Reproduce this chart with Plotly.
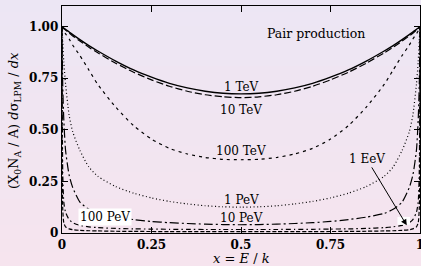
import plotly.graph_objects as go

# ---------------- data ----------------
x_frac = [0, 0.002, 0.005, 0.01, 0.02, 0.03, 0.05, 0.075, 0.1, 0.15, 0.2, 0.25, 0.3, 0.35, 0.4, 0.45,
          0.5,
          0.55, 0.6, 0.65, 0.7, 0.75, 0.8, 0.85, 0.9, 0.925, 0.95, 0.97, 0.98, 0.99, 0.995, 0.998, 1]

y_1TeV = [1.0, 0.997, 0.993, 0.987, 0.974, 0.961, 0.937, 0.908, 0.882, 0.833, 0.790, 0.755, 0.725, 0.703, 0.687, 0.677,
          0.674,
          0.677, 0.687, 0.703, 0.725, 0.755, 0.790, 0.833, 0.882, 0.908, 0.937, 0.961, 0.974, 0.987, 0.993, 0.997, 1.0]
y_10TeV = [1.0, 0.996, 0.991, 0.983, 0.968, 0.955, 0.930, 0.900, 0.873, 0.823, 0.779, 0.742, 0.711, 0.687, 0.670, 0.660,
           0.656,
           0.660, 0.670, 0.687, 0.711, 0.742, 0.779, 0.823, 0.873, 0.900, 0.930, 0.955, 0.968, 0.983, 0.991, 0.996, 1.0]
y_100TeV = [1.0, 0.99, 0.98, 0.965, 0.94, 0.91, 0.86, 0.79, 0.72, 0.61, 0.52, 0.455, 0.41, 0.383, 0.366, 0.357,
            0.355,
            0.357, 0.366, 0.383, 0.41, 0.455, 0.52, 0.61, 0.72, 0.79, 0.86, 0.91, 0.94, 0.965, 0.98, 0.99, 1.0]
y_1PeV = [1.0, 0.93, 0.83, 0.72, 0.57, 0.49, 0.40, 0.32, 0.275, 0.225, 0.193, 0.17, 0.153, 0.141, 0.132, 0.127,
          0.125,
          0.127, 0.132, 0.141, 0.153, 0.17, 0.193, 0.225, 0.275, 0.32, 0.40, 0.49, 0.57, 0.72, 0.83, 0.93, 1.0]
y_10PeV = [1.0, 0.72, 0.55, 0.40, 0.28, 0.22, 0.15, 0.115, 0.095, 0.077, 0.065, 0.056, 0.05, 0.046, 0.043, 0.041,
           0.04,
           0.041, 0.043, 0.046, 0.05, 0.056, 0.065, 0.077, 0.095, 0.115, 0.15, 0.22, 0.28, 0.40, 0.55, 0.72, 1.0]
y_100PeV = [1.0, 0.3, 0.15, 0.10, 0.065, 0.05, 0.037, 0.03, 0.026, 0.022, 0.02, 0.019, 0.018, 0.0175, 0.017, 0.017,
            0.017,
            0.017, 0.017, 0.0175, 0.018, 0.019, 0.02, 0.022, 0.026, 0.03, 0.037, 0.05, 0.065, 0.10, 0.15, 0.3, 1.0]
y_1EeV = [1.0, 0.12, 0.05, 0.03, 0.02, 0.016, 0.013, 0.011, 0.01, 0.0085, 0.0078, 0.0072, 0.0068, 0.0066, 0.0064, 0.0063,
          0.0063,
          0.0063, 0.0064, 0.0066, 0.0068, 0.0072, 0.0078, 0.0085, 0.01, 0.011, 0.013, 0.016, 0.02, 0.03, 0.05, 0.12, 1.0]

x_tick_vals = [0, 0.25, 0.5, 0.75, 1]
x_tick_text = ["0", "0.25", "0.5", "0.75", "1"]
y_tick_vals = [0, 0.25, 0.5, 0.75, 1.0]
y_tick_text = ["0", "0.25", "0.50", "0.75", "1.00"]

curve_labels = ["1 TeV", "10 TeV", "100 TeV", "1 PeV", "10 PeV"]
curve_label_x = [0.5, 0.5, 0.5, 0.5, 0.5]
curve_label_y = [0.709, 0.597, 0.398, 0.16, 0.073]

# ---------------- figure ----------------
FONT = "DejaVu Serif"
W, H = 421, 266
L, R, T, B = 62, 1, 6, 33

series = [
    ("1 TeV", y_1TeV, dict(color="black", width=1.4, dash="solid")),
    ("10 TeV", y_10TeV, dict(color="black", width=1.2, dash="7px,3px")),
    ("100 TeV", y_100TeV, dict(color="black", width=1.2, dash="3px,4px")),
    ("1 PeV", y_1PeV, dict(color="black", width=1.2, dash="1px,2.5px")),
    ("10 PeV", y_10PeV, dict(color="black", width=1.2, dash="9px,3px,2px,3px")),
    ("100 PeV", y_100PeV, dict(color="black", width=1.2, dash="5px,3px,1.5px,3px")),
    ("1 EeV", y_1EeV, dict(color="black", width=1.2, dash="4px,2px")),
]

fig = go.Figure()
for name, ys, ln in series:
    fig.add_trace(go.Scatter(x=x_frac, y=ys, mode="lines", name=name,
                             line=dict(shape="spline", smoothing=0.6, **ln),
                             showlegend=False, hoverinfo="skip"))

# vertical background gradient (lavender top -> pink bottom)
pw, ph = W - L - R, H - T - B
top_c = (236, 230, 244)
bot_c = (246, 228, 238)
nb = 40
shapes = []
y_top = (H - B) / ph
y_bot = -B / ph
for i in range(nb):
    f = i / (nb - 1)
    c = tuple(round(top_c[k] + (bot_c[k] - top_c[k]) * f) for k in range(3))
    ya = y_top - (y_top - y_bot) * i / nb
    yb = y_top - (y_top - y_bot) * (i + 1) / nb
    shapes.append(dict(type="rect", xref="paper", yref="paper",
                       x0=-L / pw - 0.01, x1=(W - L) / pw + 0.01, y0=yb - 0.002, y1=ya + 0.002,
                       fillcolor="rgb(%d,%d,%d)" % c, line=dict(width=0), layer="below"))
# small white patch near the arrow head (as in the reference)
shapes.append(dict(type="rect", xref="x", yref="y", x0=0.937, x1=0.972, y0=0.040, y1=0.078,
                   fillcolor="white", line=dict(width=0), layer="above"))

annotations = []
for t, ax_, ay_ in zip(curve_labels, curve_label_x, curve_label_y):
    annotations.append(dict(x=ax_, y=ay_, xref="x", yref="y", text=t, showarrow=False,
                            xanchor="center", yanchor="middle",
                            font=dict(family=FONT, size=12, color="black")))
annotations.append(dict(x=0.12, y=0.078, xref="x", yref="y", text="100 PeV", showarrow=False,
                        xanchor="center", yanchor="middle",
                        bgcolor="white", borderpad=1,
                        font=dict(family=FONT, size=12, color="black")))
annotations.append(dict(x=0.963, y=0.037, xref="x", yref="y", ax=0.851, ay=0.359,
                        axref="x", ayref="y", text="1 EeV", showarrow=True,
                        arrowhead=2, arrowsize=1.2, arrowwidth=1, arrowcolor="black", standoff=0,
                        font=dict(family=FONT, size=12, color="black")))
annotations.append(dict(x=0.709, y=0.966, xref="x", yref="y", text="Pair production", showarrow=False,
                        xanchor="center", yanchor="middle",
                        font=dict(family=FONT, size=12.5, color="black")))
# axis titles
annotations.append(dict(x=0.5, y=(H - 258 - B) / ph, xref="paper", yref="paper",
                        xanchor="center", yanchor="middle",
                        text="<i>x</i> = <i>E</i> / <i>k</i>", showarrow=False,
                        font=dict(family=FONT, size=13, color="black")))
annotations.append(dict(x=(15 - L) / pw, y=(H - B - 121) / ph, xref="paper", yref="paper",
                        xanchor="center", yanchor="middle",
                        text="(X<sub>0</sub>N<sub>A</sub> / A) <i>d</i>σ<sub>LPM</sub> / <i>dx</i>",
                        textangle=-90, showarrow=False,
                        font=dict(family=FONT, size=13, color="black")))

axis_common = dict(showline=True, linecolor="black", linewidth=1.3, mirror="ticks",
                   ticks="inside", ticklen=6, tickwidth=1, tickcolor="black",
                   showgrid=False, zeroline=False, automargin=False,
                   ticklabeloverflow="allow",
                   tickfont=dict(family=FONT, size=12, color="black"))

fig.update_layout(
    width=W, height=H,
    margin=dict(l=L, r=R, t=T, b=B, autoexpand=False),
    paper_bgcolor="rgb(240,229,241)",
    plot_bgcolor="rgba(0,0,0,0)",
    xaxis=dict(range=[0, 1], tickvals=x_tick_vals, ticktext=["<b>%s</b>" % t for t in x_tick_text],
               **axis_common),
    yaxis=dict(range=[0, 1.1], tickvals=y_tick_vals, ticktext=["<b>%s</b>" % t for t in y_tick_text],
               **axis_common),
    shapes=shapes,
    annotations=annotations,
)

fig.write_html("out.html",
               config={"displayModeBar": False, "staticPlot": True},
               post_script="document.body.style.margin='0';document.body.style.padding='0';"
                           "document.documentElement.style.overflow='hidden';")
